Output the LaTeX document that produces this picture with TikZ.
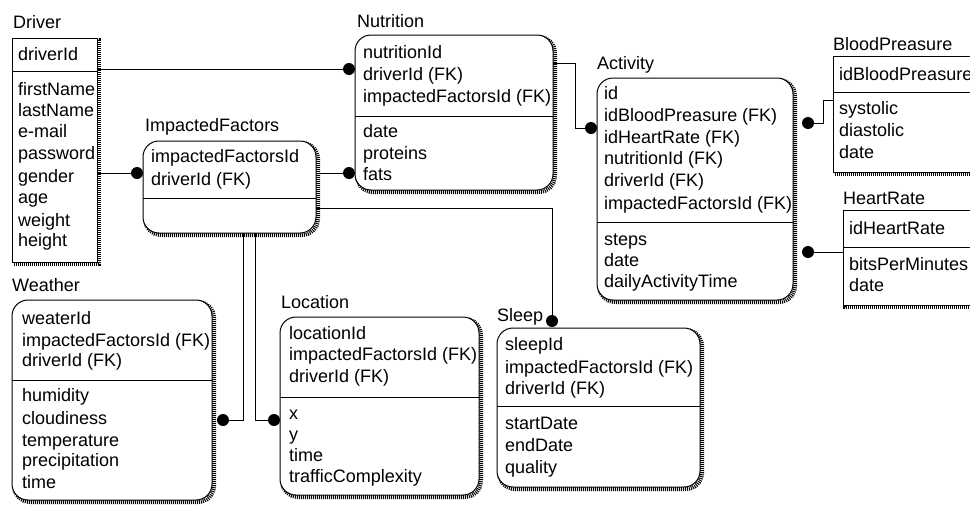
\documentclass[tikz,border=0pt]{standalone}
\usepackage{fontspec}
\setmainfont{Liberation Sans}
\usetikzlibrary{backgrounds}

\tikzset{
  ent/.style={draw, line width=1pt, fill=white, anchor=north west, inner sep=0pt, outer sep=0pt},
  dep/.style={ent, rounded corners=16pt},
  shd/.style={draw=black, line width=4pt, dash pattern=on 1pt off 1pt},
  sep/.style={line width=1pt},
  fld/.style={anchor=west, inner sep=0pt, text height=12pt, text depth=0pt},
  dot/.style={circle, fill=black, inner sep=0pt, minimum size=12pt},
  rel/.style={line width=.8pt},
}

\begin{document}
\begin{tikzpicture}[x=1pt, y=-1pt, font=\fontsize{18}{21.5}\selectfont]
\useasboundingbox (0,0) rectangle (970,504);

% shadows
\draw[shd] (14,40) rectangle ++(85,224);
\draw[shd] (835,58) rectangle ++(160,116);
\draw[shd] (845,212) rectangle ++(150,95);
\foreach \x/\y/\w/\h in {357/37/198/155, 145/143/173/92, 599/80/196/222,
  14/302/200/200, 282/319/199/178, 499/330/203/159}
  \draw[shd, rounded corners=16pt] (\x,\y) rectangle ++(\w,\h);

% Driver
\node[ent, minimum width=85pt, minimum height=224pt] (driver) at (12,38) {};
\draw[sep] (driver.west |- 0,71) -- (driver.east |- 0,71);
\node[fld] (driver-t) at (13,22) {Driver};
\foreach \y/\t in {54/driverId, 89/firstName, 110/lastName, 131/e-mail, 153/password,
  176/gender, 197/age, 220/weight, 240/height}
  \node[fld] (driver-\y) at (18,\y) {\t};

% Nutrition
\node[dep, minimum width=198pt, minimum height=155pt] (nutrition) at (355,35) {};
\draw[sep] (nutrition.west |- 0,116) -- (nutrition.east |- 0,116);
\node[fld] (nutrition-t) at (357,21) {Nutrition};
\foreach \y/\t in {52/nutritionId, 74/driverId (FK), 96/impactedFactorsId (FK),
  131/date, 153/proteins, 174/fats}
  \node[fld] (nutrition-\y) at (363,\y) {\t};

% ImpactedFactors
\node[dep, minimum width=173pt, minimum height=92pt] (impacted) at (143,141) {};
\draw[sep] (impacted.west |- 0,198) -- (impacted.east |- 0,198);
\node[fld] (impacted-t) at (145,125) {ImpactedFactors};
\foreach \y/\t in {156/impactedFactorsId, 179/driverId (FK)}
  \node[fld] (impacted-\y) at (151,\y) {\t};

% Activity
\node[dep, minimum width=196pt, minimum height=222pt] (activity) at (597,78) {};
\draw[sep] (activity.west |- 0,222) -- (activity.east |- 0,222);
\node[fld] (activity-t) at (597,63) {Activity};
\foreach \y/\t in {93/id, 115/idBloodPreasure (FK), 137/idHeartRate (FK), 158/nutritionId (FK),
  180/driverId (FK), 203/impactedFactorsId (FK), 239/steps, 260/date, 281/dailyActivityTime}
  \node[fld] (activity-\y) at (604,\y) {\t};

% BloodPreasure
\node[ent, minimum width=160pt, minimum height=116pt] (blood) at (833,56) {};
\draw[sep] (blood.west |- 0,92) -- (blood.east |- 0,92);
\node[fld] (blood-t) at (833,44) {BloodPreasure};
\foreach \y/\t in {74/idBloodPreasure, 108/systolic, 130/diastolic, 152/date}
  \node[fld] (blood-\y) at (839,\y) {\t};

% HeartRate
\node[ent, minimum width=150pt, minimum height=95pt] (heart) at (843,210) {};
\draw[sep] (heart.west |- 0,247) -- (heart.east |- 0,247);
\node[fld] (heart-t) at (843,198) {HeartRate};
\foreach \y/\t in {228/idHeartRate, 264/bitsPerMinutes, 285/date}
  \node[fld] (heart-\y) at (849,\y) {\t};

% Weather
\node[dep, minimum width=200pt, minimum height=200pt] (weather) at (12,300) {};
\draw[sep] (weather.west |- 0,380) -- (weather.east |- 0,380);
\node[fld] (weather-t) at (12,285) {Weather};
\foreach \y/\t in {318/weaterId, 340/impactedFactorsId (FK), 360/driverId (FK),
  395/humidity, 418/cloudiness, 440/temperature, 460/precipitation, 482/time}
  \node[fld] (weather-\y) at (22,\y) {\t};

% Location
\node[dep, minimum width=199pt, minimum height=178pt] (location) at (280,317) {};
\draw[sep] (location.west |- 0,397) -- (location.east |- 0,397);
\node[fld] (location-t) at (281,302) {Location};
\foreach \y/\t in {333/locationId, 354/impactedFactorsId (FK), 376/driverId (FK),
  413/x, 434/y, 455/time, 476/trafficComplexity}
  \node[fld] (location-\y) at (289,\y) {\t};

% Sleep
\node[dep, minimum width=203pt, minimum height=159pt] (sleep) at (497,328) {};
\draw[sep] (sleep.west |- 0,406) -- (sleep.east |- 0,406);
\node[fld] (sleep-t) at (497,315) {Sleep};
\foreach \y/\t in {344/sleepId, 367/impactedFactorsId (FK), 388/driverId (FK),
  423/startDate, 445/endDate, 467/quality}
  \node[fld] (sleep-\y) at (505,\y) {\t};

% relationship ends
\node[dot] (d-nut1) at (349,69) {};
\node[dot] (d-imp) at (137,173) {};
\node[dot] (d-nut2) at (349,173) {};
\node[dot] (d-act) at (591,128) {};
\node[dot] (d-blood) at (808,123) {};
\node[dot] (d-heart) at (808,252) {};
\node[dot] (d-sleep) at (552,321) {};
\node[dot] (d-weather) at (223,420) {};
\node[dot] (d-location) at (274,420) {};

\begin{scope}[on background layer, rel]
\draw (driver.center |- d-nut1) -- (d-nut1);
\draw (driver.center |- d-imp) -- (d-imp);
\draw (impacted.center |- d-nut2) -- (d-nut2);
\draw (nutrition.center |- 0,63) -- (575,63) |- (d-act);
\draw (d-blood) -| (823,100) -- (blood.center |- 0,100);
\draw (d-heart) -- (heart.center |- d-heart);
\draw (impacted.center |- 0,208) -| (d-sleep);
\draw (impacted.center -| 243,0) |- (d-weather);
\draw (impacted.center -| 255,0) |- (d-location);
\end{scope}
\end{tikzpicture}
\end{document}
